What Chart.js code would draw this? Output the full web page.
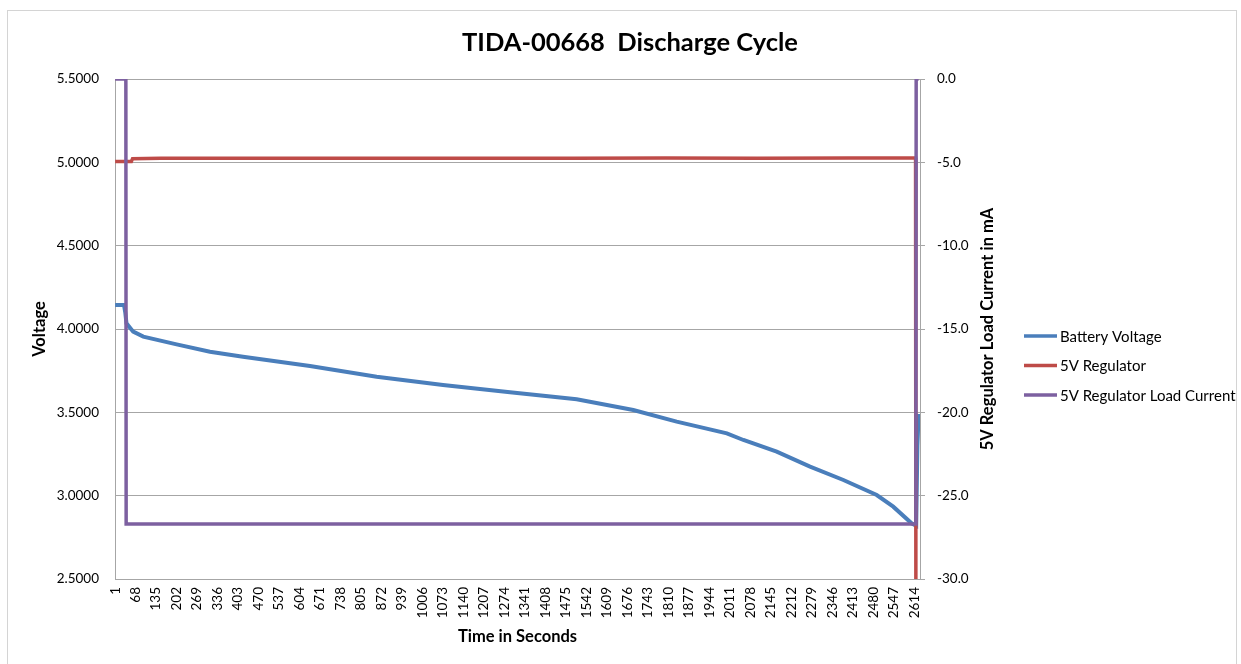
<!DOCTYPE html>
<html>
<head>
<meta charset="utf-8">
<script src="https://cdn.jsdelivr.net/npm/chart.js@4.4.1/dist/chart.umd.min.js"></script>
<style>
  html, body { margin: 0; padding: 0; background: #fff; }
  #frame { position: absolute; left: 7px; top: 10px; width: 1230px; height: 660px; border: 1px solid #d4d4d4; box-sizing: border-box; }
  #c { position: absolute; left: 0; top: 0; }
</style>
</head>
<body>
<div id="frame"></div>
<canvas id="c" width="1241" height="664"></canvas>
<script>
// ---- data ----
const chartTitle = 'TIDA-00668  Discharge Cycle';
const seriesNames = ['Battery Voltage', '5V Regulator', '5V Regulator Load Current'];
const xTickValues = [1, 68, 135, 202, 269, 336, 403, 470, 537, 604, 671, 738, 805, 872, 939, 1006, 1073, 1140, 1207, 1274, 1341, 1408, 1475, 1542, 1609, 1676, 1743, 1810, 1877, 1944, 2011, 2078, 2145, 2212, 2279, 2346, 2413, 2480, 2547, 2614];

const batteryT = [1, 30, 34, 38, 60, 93, 202, 311, 419, 638, 856, 1073, 1292, 1510, 1695, 1837, 2001, 2055, 2164, 2273, 2382, 2491, 2545, 2605, 2620, 2624, 2628];
const batteryV = [4.144, 4.144, 4.10, 4.034, 3.984, 3.954, 3.908, 3.864, 3.834, 3.778, 3.714, 3.664, 3.620, 3.578, 3.514, 3.444, 3.374, 3.334, 3.264, 3.174, 3.094, 3.004, 2.934, 2.834, 2.82, 3.30, 3.49];

const regT = [1, 54, 58, 150, 300, 600, 900, 1200, 1500, 1800, 2100, 2400, 2618, 2619];
const regV = [5.005, 5.005, 5.022, 5.024, 5.024, 5.025, 5.025, 5.025, 5.025, 5.026, 5.025, 5.026, 5.026, 2.4];

const currentT = [1, 36, 37, 2619, 2620, 2628];
const currentI = [0, 0, -26.7, -26.7, 0, 0];

const seriesColors = ['#4a7ebb', '#be4b48', '#7d60a0'];
// -----------------------------------------

const FONT = 'Lato, "Open Sans", "DejaVu Sans", sans-serif';
const pts = (xs, ys) => xs.map((x, i) => ({ x: x, y: ys[i] }));
const GRID = '#a6a6a6';

const extras = {
  id: 'extras',
  afterDraw(chart) {
    const ctx = chart.ctx;
    const area = chart.chartArea;
    // chart title
    ctx.save();
    ctx.font = 'bold 25.5px ' + FONT;
    ctx.fillStyle = '#000';
    ctx.textAlign = 'center';
    ctx.textBaseline = 'middle';
    ctx.fillText(chartTitle, 630, 43);
    ctx.restore();

    // right axis title (reads bottom to top)
    ctx.save();
    ctx.font = 'bold 16.5px ' + FONT;
    ctx.fillStyle = '#000';
    ctx.textAlign = 'center';
    ctx.textBaseline = 'middle';
    ctx.translate(988, (area.top + area.bottom) / 2);
    ctx.rotate(-Math.PI / 2);
    ctx.fillText('5V Regulator Load Current in mA', 0, 0);
    ctx.restore();

    // legend
    ctx.save();
    ctx.font = '15px ' + FONT;
    ctx.textAlign = 'left';
    ctx.textBaseline = 'middle';
    chart.data.datasets.forEach((ds, i) => {
      const y = 336 + i * 29.5;
      ctx.strokeStyle = ds.borderColor;
      ctx.lineWidth = 3.5;
      ctx.beginPath();
      ctx.moveTo(1024, y);
      ctx.lineTo(1057, y);
      ctx.stroke();
      ctx.fillStyle = '#000';
      ctx.fillText(ds.label, 1060, y + 1);
    });
    ctx.restore();
  }
};

new Chart(document.getElementById('c'), {
  type: 'line',
  data: {
    datasets: [
      { label: seriesNames[0], data: pts(batteryT, batteryV), borderColor: seriesColors[0], backgroundColor: seriesColors[0], borderWidth: 4, pointRadius: 0, yAxisID: 'y', order: 3, tension: 0 },
      { label: seriesNames[1], data: pts(regT, regV), borderColor: seriesColors[1], backgroundColor: seriesColors[1], borderWidth: 3.5, pointRadius: 0, yAxisID: 'y', order: 2, tension: 0 },
      { label: seriesNames[2], data: pts(currentT, currentI), borderColor: seriesColors[2], backgroundColor: seriesColors[2], borderWidth: 3.5, pointRadius: 0, yAxisID: 'y2', order: 1, tension: 0 }
    ]
  },
  options: {
    responsive: false,
    animation: false,
    layout: { padding: { left: 20, right: 241, top: 79, bottom: 15 } },
    plugins: {
      legend: { display: false },
      tooltip: { enabled: false },
      title: { display: false }
    },
    scales: {
      x: {
        type: 'linear',
        position: 'bottom',
        min: 0.5,
        max: 2632.5,
        grid: { display: false, drawTicks: false },
        border: { display: true, color: GRID, width: 1 },
        afterBuildTicks: (scale) => { scale.ticks = xTickValues.map(v => ({ value: v })); },
        afterFit: (scale) => { scale.height = 664 - 579 - 15; },
        ticks: {
          autoSkip: false,
          minRotation: 90,
          maxRotation: 90,
          padding: 8,
          color: '#000',
          font: { family: FONT, size: 13.5 },
          callback: (v) => String(v)
        },
        title: {
          display: true,
          text: 'Time in Seconds',
          color: '#000',
          font: { family: FONT, size: 16.5, weight: 'bold' },
          padding: { top: 0, bottom: 2 }
        }
      },
      y: {
        type: 'linear',
        position: 'left',
        min: 2.5,
        max: 5.5,
        afterFit: (scale) => { scale.width = 95; },
        grid: { color: GRID, drawTicks: false, lineWidth: 1 },
        border: { display: true, color: GRID, width: 1 },
        ticks: {
          stepSize: 0.5,
          padding: 16,
          color: '#000',
          font: { family: FONT, size: 13.5 },
          callback: (v) => Number(v).toFixed(4)
        },
        title: {
          display: true,
          text: 'Voltage',
          color: '#000',
          font: { family: FONT, size: 16.5, weight: 'bold' },
          padding: { top: 10, bottom: 0 }
        }
      },
      y2: {
        type: 'linear',
        position: 'right',
        min: -30,
        max: 0,
        afterFit: (scale) => { scale.width = 80; },
        grid: { drawOnChartArea: false, drawTicks: true, tickLength: 5, color: GRID },
        border: { display: true, color: GRID, width: 1 },
        ticks: {
          stepSize: 5,
          padding: 12,
          color: '#000',
          font: { family: FONT, size: 13.5 },
          callback: (v) => (Math.abs(v) < 1e-9 ? 0 : v).toFixed(1)
        }
      }
    }
  },
  plugins: [extras]
});
</script>
</body>
</html>
